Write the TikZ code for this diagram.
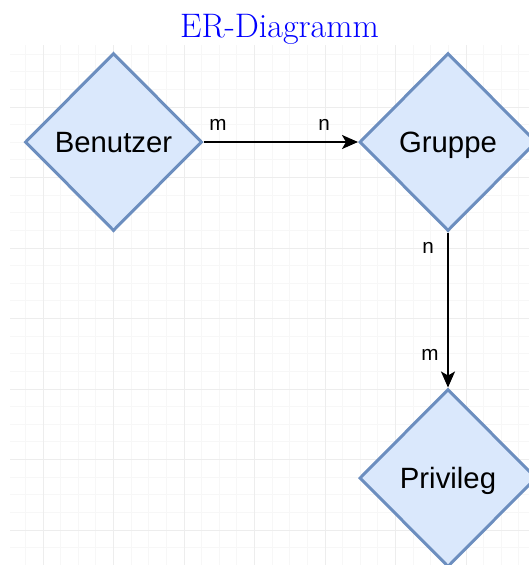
\documentclass[tikz,border=0pt]{standalone}
\usepackage{fontspec}
\newfontfamily\arialfont{Liberation Sans}
\usetikzlibrary{shapes.geometric,arrows.meta}
\definecolor{erfill}{HTML}{DAE8FC}
\definecolor{erdraw}{HTML}{6C8EBF}
\definecolor{gridminor}{HTML}{F7F7F7}
\definecolor{gridmajor}{HTML}{EDEDED}
\tikzset{
  entity/.style={diamond, aspect=1, draw=erdraw, fill=erfill, line width=2.25pt,
    minimum width=132.75pt, minimum height=133.5pt, inner sep=0pt,
    text depth=0pt, font=\arialfont\fontsize{22}{26}\selectfont, text=black},
  card/.style={font=\arialfont\fontsize{15.5}{18}\selectfont, anchor=base, inner sep=0pt, text=black},
  conn/.style={line width=1.5pt, black, -{Stealth[length=12pt,width=10.5pt,inset=3pt]}},
  gminor/.style={gridminor, line width=0.75pt},
  gmajor/.style={gridmajor, line width=0.75pt},
}
\begin{document}
\begin{tikzpicture}[x=0.75pt,y=-0.75pt]
\useasboundingbox (0,0) rectangle (529,565);
\clip (0,0) rectangle (529,565);
% grid
\foreach \i in {0,...,29} {
  \draw[gminor] ({25.375+\i*17.625},45) -- ({25.375+\i*17.625},565);
}
\foreach \i in {0,...,29} {
  \draw[gminor] (10,{54.125+\i*17.625}) -- (529,{54.125+\i*17.625});
}
\foreach \i in {0,...,7} {
  \draw[gmajor] ({43+\i*70.5},45) -- ({43+\i*70.5},565);
}
\foreach \i in {0,...,6} {
  \draw[gmajor] (10,{107+\i*70.5}) -- (529,{107+\i*70.5});
}
% title
\node[anchor=base, inner sep=0pt, text=blue, font=\fontsize{25.5}{30}\selectfont] (title) at (279.5,37) {ER-Diagramm};
% entities
\node[entity] (ben) at (113.5,142) {Benutzer};
\node[entity] (grp) at (448,142) {Gruppe};
\node[entity] (priv) at (448,478) {Privileg};
% connectors
\draw[conn] (ben.east) -- (grp.west);
\draw[conn] (grp.south) -- (priv.north);
% cardinalities
\node[card] (c1) at (218,130) {m};
\node[card] (c2) at (324,130) {n};
\node[card] (c3) at (428,253) {n};
\node[card] (c4) at (430,360) {m};
\end{tikzpicture}
\end{document}
